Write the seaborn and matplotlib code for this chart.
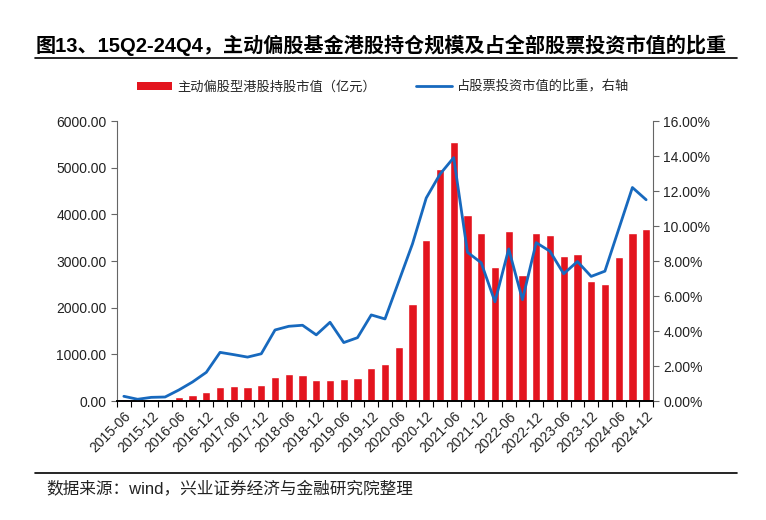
import numpy as np
import matplotlib
matplotlib.use("Agg")
import matplotlib.pyplot as plt
from matplotlib.patches import Patch
from matplotlib.lines import Line2D
from matplotlib.ticker import FuncFormatter, MultipleLocator, FixedLocator
import seaborn as sns

# ── data ─────────────────────────────────────────────────────────────────────

QUARTERS = [
    "2015-06", "2015-09", "2015-12", "2016-03", "2016-06", "2016-09", "2016-12",
    "2017-03", "2017-06", "2017-09", "2017-12", "2018-03", "2018-06", "2018-09",
    "2018-12", "2019-03", "2019-06", "2019-09", "2019-12", "2020-03", "2020-06",
    "2020-09", "2020-12", "2021-03", "2021-06", "2021-09", "2021-12", "2022-03",
    "2022-06", "2022-09", "2022-12", "2023-03", "2023-06", "2023-09", "2023-12",
    "2024-03", "2024-06", "2024-09", "2024-12",
]

# 主动偏股型港股持股市值（亿元）
HK_HOLDING = [
    50, 20, 20, 35, 78, 121, 185, 306, 313, 306,
    349, 520, 569, 548, 448, 448, 463, 491, 705, 783,
    1153, 2078, 3445, 4968, 5558, 3993, 3608, 2875, 3644, 2690,
    3601, 3559, 3110, 3160, 2576, 2512, 3096, 3608, 3694,
]

# 占股票投资市值的比重（%）
HK_RATIO = [
    0.27, 0.10, 0.21, 0.23, 0.63, 1.09, 1.64, 2.78, 2.65, 2.51,
    2.70, 4.06, 4.27, 4.33, 3.78, 4.50, 3.34, 3.62, 4.92, 4.69,
    6.83, 8.98, 11.60, 12.96, 13.91, 8.50, 7.90, 5.67, 8.69, 5.79,
    9.05, 8.56, 7.27, 7.97, 7.12, 7.42, 9.81, 12.20, 11.50,
]

TICK_LABELS = QUARTERS[::2]

TITLE = "图13、15Q2-24Q4，主动偏股基金港股持仓规模及占全部股票投资市值的比重"
BAR_LABEL = "主动偏股型港股持股市值（亿元）"
LINE_LABEL = "占股票投资市值的比重，右轴"
SOURCE = "数据来源：wind，兴业证券经济与金融研究院整理"

RED = "#E3141E"
BLUE = "#1769BE"
FONTS = ["Liberation Sans", "Noto Sans CJK SC", "DejaVu Sans"]

# ── plot ─────────────────────────────────────────────────────────────────────

sns.set_style("white")
plt.rcParams["font.family"] = FONTS
plt.rcParams["axes.unicode_minus"] = False

fig = plt.figure(figsize=(7.66, 5.2), dpi=100)
ax = fig.add_axes([0.1527, 0.2288, 0.6998, 0.5385])

n = len(QUARTERS)
sns.barplot(x=QUARTERS, y=HK_HOLDING, color=RED, saturation=1,
            width=0.6, ax=ax)
ax.set_xlim(-0.5, n - 0.5)
ax.set_ylim(0, 6000)
ax.yaxis.set_major_locator(MultipleLocator(1000))
ax.yaxis.set_major_formatter(FuncFormatter(lambda v, _: f"{v:.2f}"))

ax2 = ax.twinx()
sns.lineplot(x=np.arange(n), y=HK_RATIO, color=BLUE, linewidth=2, ax=ax2)
ax2.set_ylim(0, 16)
ax2.yaxis.set_major_locator(MultipleLocator(2))
ax2.yaxis.set_major_formatter(FuncFormatter(lambda v, _: f"{v:.2f}%"))
ax2.set_xlim(-0.5, n - 0.5)

# x ticks: labels every half year, tick marks at bar boundaries
ax.xaxis.set_major_locator(FixedLocator(np.arange(0, n, 2)))
ax.set_xticklabels(TICK_LABELS, rotation=45, ha="right",
                   rotation_mode="anchor", fontsize=10, color="#222222")
ax.xaxis.set_minor_locator(FixedLocator(np.arange(-0.5, n, 1)))
ax.tick_params(axis="x", which="major", length=0, pad=6)
ax.tick_params(axis="x", which="minor", length=4, width=0.8,
               direction="out", color="black", bottom=True)

for a in (ax, ax2):
    a.set_xlabel("")
    a.set_ylabel("")
    a.spines["top"].set_visible(False)
    a.grid(False)
    a.spines["bottom"].set_color("black")
    a.spines["bottom"].set_linewidth(1.2)

ax.spines["right"].set_visible(False)
ax.spines["left"].set_color("#666666")
ax2.spines["left"].set_visible(False)
ax2.spines["right"].set_color("#666666")
ax.tick_params(axis="y", which="major", left=True, length=4, width=0.8,
               color="#666666", labelsize=10, labelcolor="#222222")
ax2.tick_params(axis="y", which="major", right=True, length=4, width=0.8,
                color="#666666", labelsize=10, labelcolor="#222222")

# legend
handles = [Patch(facecolor=RED, edgecolor="none", label=BAR_LABEL),
           Line2D([], [], color=BLUE, linewidth=2, label=LINE_LABEL)]
fig.legend(handles=handles, loc="center", bbox_to_anchor=(0.5, 0.833),
           ncol=2, frameon=False, fontsize=9.5, handlelength=2.7,
           handleheight=0.6, columnspacing=3.0, handletextpad=0.4)

# title, rules and source note
fig.text(0.497, 0.913, TITLE, ha="center", va="center",
         fontsize=14.5, fontweight="bold", color="black")
fig.add_artist(Line2D([0.046, 0.962], [0.889, 0.889], color="black",
                      linewidth=1.2, transform=fig.transFigure))
fig.add_artist(Line2D([0.046, 0.962], [0.090, 0.090], color="black",
                      linewidth=1.2, transform=fig.transFigure))
fig.text(0.060, 0.061, SOURCE, ha="left", va="center",
         fontsize=12, color="#222222")

fig.savefig("out.png", dpi=100)
